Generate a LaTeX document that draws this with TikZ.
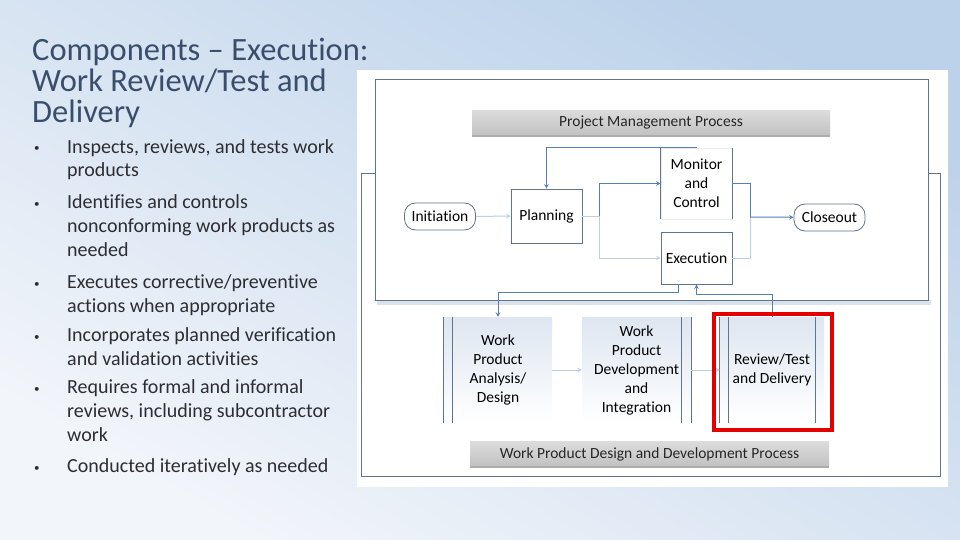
\documentclass[tikz,border=0pt]{standalone}
\usepackage{fontspec}
\setmainfont{Carlito}[Ligatures={TeX,NoCommon}]
\usepackage{tikz}

\definecolor{bgtop}{RGB}{188,210,234}
\definecolor{bgbot}{RGB}{242,245,250}
\definecolor{titlec}{RGB}{58,78,108}
\definecolor{bodyc}{RGB}{45,45,50}
\definecolor{framec}{RGB}{96,116,138}
\definecolor{linec}{RGB}{84,128,180}
\definecolor{litec}{RGB}{186,206,228}
\definecolor{stagetop}{RGB}{222,230,241}
\definecolor{shadowc}{RGB}{218,226,236}

\newcommand\diagfont{\fontsize{15.5}{19}\selectfont}

\begin{document}
\begin{tikzpicture}[
    x=1pt, y=-1pt,
    >={stealth},
    title/.style={anchor=base west, inner sep=0pt, align=left, text=titlec,
        font=\fontsize{32.5}{31}\selectfont},
    item/.style={anchor=base west, inner sep=0pt, align=left, text=bodyc,
        font=\fontsize{20}{24}\selectfont},
    dot/.style={anchor=base west, inner sep=0pt, text=bodyc, font=\fontsize{11}{14}\selectfont},
    frame/.style={draw=framec, line width=0.8pt},
    bar/.style={top color=gray!28, bottom color=gray!48, minimum width=358pt,
        minimum height=25pt, inner sep=0pt, font=\diagfont, text=black!85},
    pill/.style={draw=framec, line width=0.8pt, rounded corners=11pt, minimum width=71pt,
        minimum height=27pt, inner sep=0pt, font=\diagfont},
    box/.style={draw=framec, line width=0.8pt, fill=white, minimum width=71pt, inner sep=0pt,
        align=center, font=\diagfont},
    stage/.style={top color=stagetop, bottom color=white, minimum height=106pt, inner sep=0pt,
        align=center, font=\diagfont},
    line/.style={draw=linec, line width=1pt},
    lite/.style={draw=litec, line width=1pt},
    hilite/.style={draw=red!90!black, line width=4pt}
    ]

    % slide background
    \shade[top color=bgtop, bottom color=bgbot, shading angle=-30] (0,0) rectangle (960,540);
    \useasboundingbox (0,0) rectangle (960,540);

    % text column (nodes anchored on the baseline of their last line)
    \node[title] (title) at (32,123) {Components – Execution:\\Work Review/Test and\\Delivery};

    \node[dot] (d1) at (34,152) {•};
    \node[dot] (d2) at (34,207) {•};
    \node[dot] (d3) at (34,287) {•};
    \node[dot] (d4) at (34,340) {•};
    \node[dot] (d5) at (34,392) {•};
    \node[dot] (d6) at (34,471) {•};

    \node[item] (b1) at (67,177) {Inspects, reviews, and tests work\\products};
    \node[item] (b2) at (67,256) {Identifies and controls\\nonconforming work products as\\needed};
    \node[item] (b3) at (67,312) {Executes corrective/preventive\\actions when appropriate};
    \node[item] (b4) at (67,365) {Incorporates planned verification\\and validation activities};
    \node[item] (b5) at (67,441) {Requires formal and informal\\reviews, including subcontractor\\work};
    \node[item] (b6) at (67,472) {Conducted iteratively as needed};

    % diagram panel and frames
    \fill[white] (357,70) rectangle (948,487);
    \draw[frame] (361,173) rectangle (940,476);
    \fill[shadowc] (377,300) rectangle (931,305);
    \filldraw[frame, fill=white] (375,79) rectangle (928,300);

    % project management process
    \node[bar] (pmbar) at (651,123) {Project Management Process};
    \draw[gray!65, line width=2pt] (pmbar.south west) -- (pmbar.south east);

    \node[pill] (init) at (440,216.5) {Initiation};
    \node[box, minimum height=54pt] (plan) at (546.5,216) {Planning};
    \node[box, draw=white!92!black, minimum height=71pt] (mon) at (696.5,183.5) {Monitor\\and\\Control};
    \draw[frame] (mon.north west) -- (mon.south west);
    \draw[frame] (mon.north east) -- (mon.south east);
    \node[box, minimum height=52pt] (exe) at (696.5,258) {Execution};
    \node[pill] (close) at (829.5,217.5) {Closeout};

    \coordinate (split) at (599,216);
    \coordinate (merge) at (750,217);

    \draw[lite, ->] (init) -- (plan);
    \draw[lite] (plan) -- (split);
    \draw[line, ->] (split) |- (mon.west);
    \draw[lite, ->] (split) |- (exe.west);
    \draw[line] (mon.east) -| (merge);
    \draw[lite] (exe.east) -| (merge);
    \draw[line, ->] (merge) -- (close);
    \draw[line, ->] (mon.north) -| (plan.north);

    % work product design and development
    \node[stage, minimum width=108pt] (wp1) at (498,370) {Work\\Product\\Analysis/\\Design};
    \node[stage, minimum width=109pt] (wp2) at (636.5,370) {Work\\Product\\Development\\and\\Integration};
    \node[stage, minimum width=104pt] (wp3) at (772,370) {Review/Test\\and Delivery};

    \draw[frame] (wp1.north west) -- (wp1.south west);
    \draw[frame] ([xshift=9pt]wp1.north west) -- ([xshift=9pt]wp1.south west);
    \draw[frame] (wp2.north east) -- (wp2.south east);
    \draw[frame] ([xshift=-10pt]wp2.north east) -- ([xshift=-10pt]wp2.south east);
    \draw[frame] (wp3.north west) -- (wp3.south west);
    \draw[frame] ([xshift=9pt]wp3.north west) -- ([xshift=9pt]wp3.south west);
    \draw[frame] ([xshift=-9pt]wp3.north east) -- ([xshift=-9pt]wp3.south east);

    \draw[lite, ->] (wp1) -- (wp2);
    \draw[lite, ->] (wp2) -- (wp3);

    \coordinate (down) at (678,292);
    \coordinate (up) at (772,294);
    \draw[line, ->] (exe.south -| down) -- (down) -| (wp1.north);
    \draw[line, ->] (wp3.north) -- (up) -| (exe.south);

    \node[bar, minimum width=359pt] (wpbar) at (649.5,454) {Work Product Design and Development Process};
    \draw[gray!65, line width=2pt] (wpbar.south west) -- (wpbar.south east);

    % current step
    \draw[hilite] (714,314) rectangle (832,430);

\end{tikzpicture}
\end{document}
